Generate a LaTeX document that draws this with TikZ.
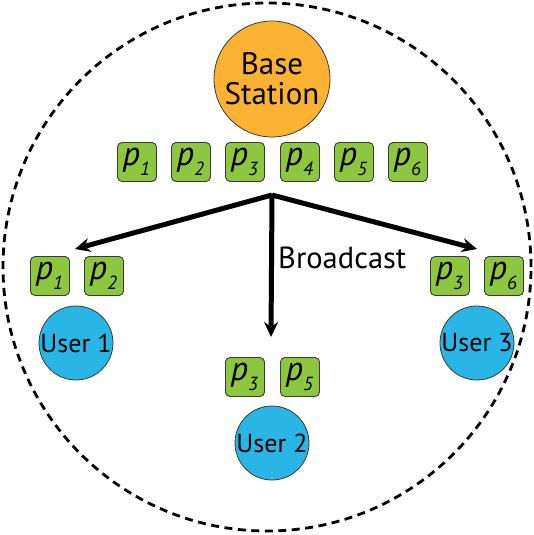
\documentclass[tikz,border=0pt]{standalone}
\usepackage{fontspec}
\setmainfont{PT Sans}
\usetikzlibrary{arrows.meta}
\definecolor{bsorange}{HTML}{FBB232}
\definecolor{pgreen}{HTML}{8DC63F}
\definecolor{ublue}{HTML}{29B6E6}
\definecolor{edgegray}{HTML}{3A3A3A}
\tikzset{
  x=1pt,y=1pt,
  pkt/.style={draw=edgegray,line width=0.9pt,fill=pgreen,rounded corners=4.5pt,minimum width=39pt,minimum height=39pt,inner sep=0pt,font=\fontsize{34}{34}\selectfont\itshape},
  user/.style={circle,draw=edgegray,line width=0.8pt,fill=ublue,minimum size=74pt,inner sep=0pt,font=\fontsize{26}{26}\selectfont},
  bs/.style={circle,draw=edgegray,line width=0.8pt,fill=bsorange,minimum size=116pt,inner sep=0pt,align=center,font=\fontsize{31}{30}\selectfont},
  bcast/.style={line width=5pt,-{Stealth[length=15pt,width=14pt]}},
}
\newcommand{\pk}[1]{\kern-1pt\raisebox{1pt}{p}\kern0pt\raisebox{-9pt}{\fontsize{19}{19}\selectfont #1}}
\begin{document}
\begin{tikzpicture}
\useasboundingbox (0,0) rectangle (534,-535);
\draw[line width=2.8pt,dash pattern=on 8pt off 5.5pt] (267,-267) circle (264);
\node[bs] (bs) at (272,-79) {Base\\Station};
\node[pkt] (a1) at (137,-162) {\pk{1}};
\node[pkt] (a2) at (191,-162) {\pk{2}};
\node[pkt] (a3) at (245,-162) {\pk{3}};
\node[pkt] (a4) at (300,-162) {\pk{4}};
\node[pkt] (a5) at (354,-162) {\pk{5}};
\node[pkt] (a6) at (408,-162) {\pk{6}};
\coordinate (src) at (272,-195);
\coordinate (e1) at (75,-249);
\coordinate (e2) at (271,-337);
\coordinate (e3) at (477,-249);
\draw[bcast] (src) -- (e1);
\draw[bcast] (src) -- (e2);
\draw[bcast] (src) -- (e3);
\node[anchor=base west,font=\fontsize{30.5}{30.5}\selectfont,inner sep=0pt] (bc) at (278,-268) {Broadcast};
\node[pkt] (u1a) at (50,-276) {\pk{1}};
\node[pkt] (u1b) at (104,-276) {\pk{2}};
\node[user] (u1) at (76,-343) {User 1};
\node[pkt] (u2a) at (245,-377) {\pk{3}};
\node[pkt] (u2b) at (300,-377) {\pk{5}};
\node[user] (u2) at (272,-443) {User 2};
\node[pkt] (u3a) at (450,-276) {\pk{3}};
\node[pkt] (u3b) at (504,-276) {\pk{6}};
\node[user] (u3) at (477,-343) {User 3};
\end{tikzpicture}
\end{document}
